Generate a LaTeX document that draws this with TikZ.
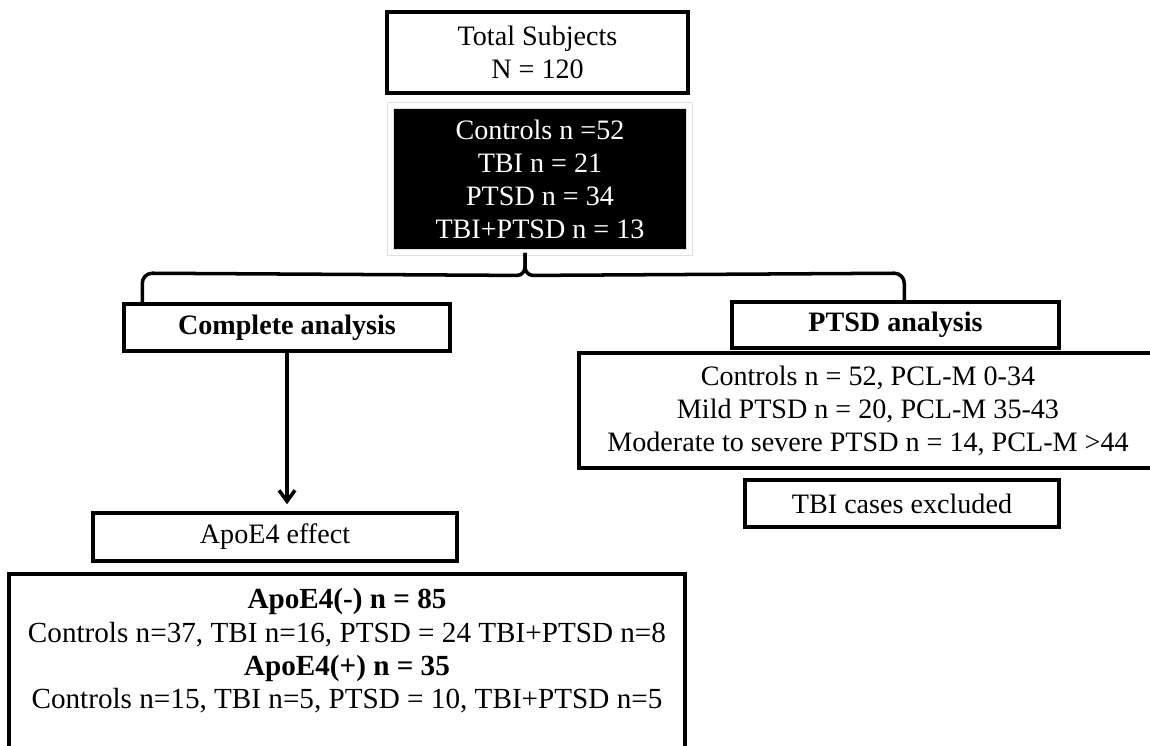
\documentclass[tikz,border=0pt]{standalone}
\usepackage{fontspec}
\setmainfont{Liberation Serif}
\usetikzlibrary{arrows.meta,calc}
\begin{document}
\begin{tikzpicture}[x=0.02cm,y=-0.02cm,font=\fontsize{16}{18.8}\selectfont,
box/.style={draw,line width=2pt,align=center,inner sep=0},
link/.style={line width=2pt}]
\useasboundingbox (0,0) rectangle (1150,746);
\node[box,minimum width=6.02cm,minimum height=1.62cm](total)at(537.5,52.5){Total Subjects\\N = 120};
\node[box,fill=black,text=white,draw=gray!25,line width=0.5pt,double=white,double distance=0.1cm,minimum width=5.98cm,minimum height=2.94cm](counts)at(540,179){Controls n =52\\TBI n = 21\\PTSD n = 34\\TBI+PTSD n = 13};
\node[box,font=\fontsize{16}{18.8}\selectfont\bfseries,minimum width=6.52cm,minimum height=0.94cm](comp)at(287,327.5){Complete analysis};
\node[box,font=\fontsize{16}{18.8}\selectfont\bfseries,minimum width=6.54cm,minimum height=0.92cm](ptsd)at(895.5,325){PTSD analysis};
\node[box,minimum width=11.56cm,minimum height=2.3cm](details)at(868,410.5){Controls n = 52, PCL-M 0-34\\Mild PTSD n = 20, PCL-M 35-43\\Moderate to severe PTSD n = 14, PCL-M >44};
\node[box,minimum width=6.28cm,minimum height=0.94cm](excl)at(902,503.5){TBI cases excluded};
\node[box,minimum width=7.28cm,minimum height=0.96cm](effect)at(275,537){ApoE4 effect};
\node[box,anchor=north,font=\fontsize{16.6}{18.8}\selectfont,minimum width=13.52cm,inner ysep=0.3cm](apoe)at(347,572){\textbf{ApoE4(-) n = 85}\\Controls n=37, TBI n=16, PTSD = 24 TBI+PTSD n=8\\\textbf{ApoE4(+) n = 35}\\Controls n=15, TBI n=5, PTSD = 10, TBI+PTSD n=5\rule[-1.3cm]{0pt}{0pt}};
% split under the counts box
\coordinate (cusp) at ([xshift=-0.3cm]counts.south);
\draw[link] (cusp) -- ++(0,14) to[out=-90,in=0] ++(-8,8.5) -- ($(comp.north west)+(30,-29)$) to[out=180,in=90] ++(-10,10) -- ($(comp.north west)+(20,0)$);
\draw[link] (cusp) -- ++(0,14) to[out=-90,in=180] ++(8,8.5) -- ($(ptsd.north west)+(164,-27)$) to[out=0,in=90] ++(10,10) -- ($(ptsd.north west)+(174,0)$);
\draw[link,-{Straight Barb[length=0.22cm,width=0.32cm]},shorten >=0.14cm](comp.south)--(comp.south|-effect.north);
\end{tikzpicture}
\end{document}
